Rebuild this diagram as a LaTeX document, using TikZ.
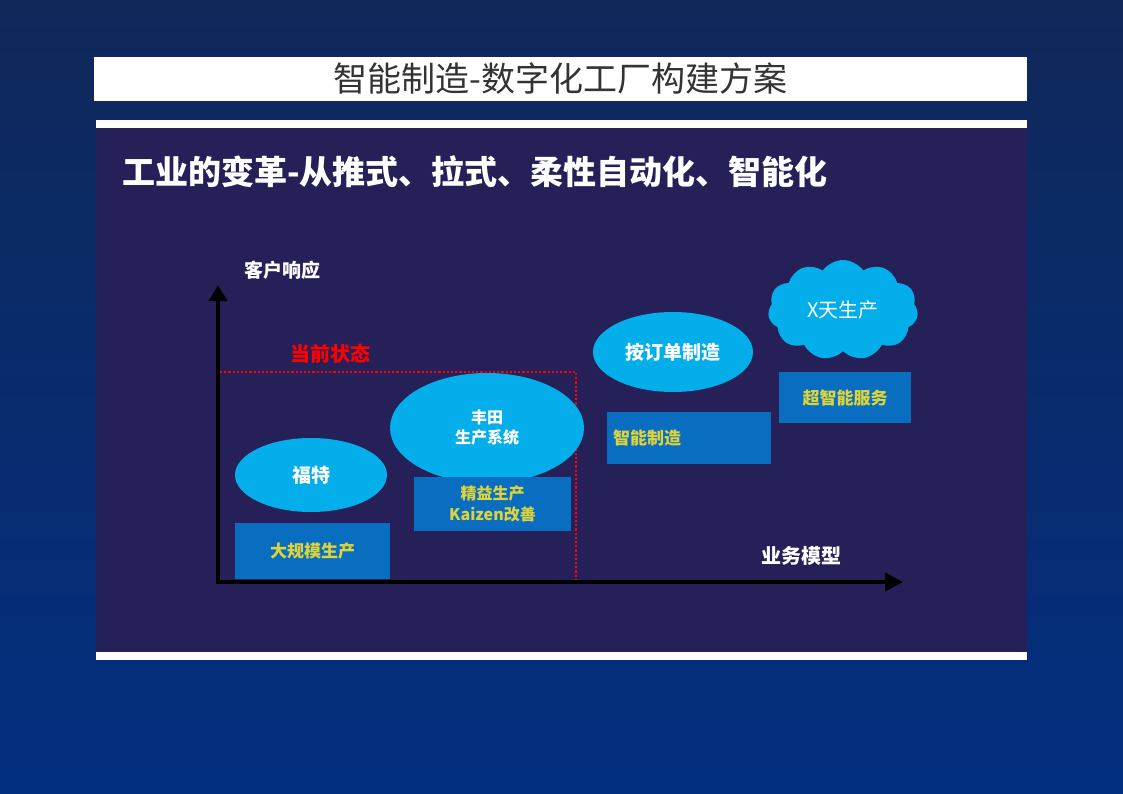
\documentclass[tikz,border=0pt]{standalone}
\usepackage{fontspec}
\newfontfamily\cjk{Noto Sans CJK SC}
\newcommand\cjkb{\cjk\bfseries}
\usetikzlibrary{shapes.symbols,shapes.geometric,arrows.meta}
\definecolor{bgtop}{HTML}{10285A}
\definecolor{bgbot}{HTML}{022F80}
\definecolor{panel}{HTML}{262059}
\definecolor{ell}{HTML}{04AEEB}
\definecolor{boxc}{HTML}{0A6EC0}
\definecolor{ytxt}{HTML}{DCD43A}
\tikzset{
 ellnode/.style={ellipse,fill=ell,inner sep=0pt,text=white,font=\cjkb\fontsize{19}{22}\selectfont,align=center},
 boxnode/.style={rectangle,fill=boxc,inner sep=0pt,text=ytxt,font=\cjkb\fontsize{17}{21}\selectfont,align=center},
 lbl/.style={text=white,font=\cjkb\fontsize{20}{24}\selectfont,inner sep=0pt},
}
\begin{document}
\begin{tikzpicture}[x=1pt,y=-1pt]
\shade[top color=bgtop,bottom color=bgbot] (0,0) rectangle (1123,794);
\useasboundingbox (0,0) rectangle (1123,794);
\node[fill=white,minimum width=933pt,minimum height=44pt,inner sep=0pt,font=\cjk\fontsize{34}{38}\selectfont,text=black!80] (title) at (560.5,79) {智能制造-数字化工厂构建方案};
\fill[white] (96,120) rectangle (1027,660);
\fill[panel] (96,128) rectangle (1027,652);
\node[anchor=west,text=white,font=\cjkb\fontsize{33}{38}\selectfont,inner sep=0pt] (head) at (122,172) {工业的变革-从推式、拉式、柔性自动化、智能化};
\coordinate (o) at (218,582);
\coordinate (ytop) at (218,285);
\coordinate (xend) at (903,582);
\node[lbl,font=\cjkb\fontsize{19}{22}\selectfont] (ylab) at (282,270) {客户响应};
\node[lbl] (xlab) at (801,556) {业务模型};
\node[lbl,text=red] (cur) at (330,354) {当前状态};
\draw[red,line width=2.2pt,dotted] (220,372) -- (576,372) -- (576,582);
\node[ellnode,minimum width=152pt,minimum height=74pt] (ford) at (311,475) {福特};
\node[boxnode,minimum width=155pt,minimum height=56pt] (mass) at (312.5,551) {大规模生产};
\node[ellnode,minimum width=194pt,minimum height=110pt,font=\cjkb\fontsize{16}{20}\selectfont] (toyota) at (487,428) {丰田\\生产系统};
\node[boxnode,minimum width=157pt,minimum height=54pt,font=\cjkb\fontsize{16}{21}\selectfont] (lean) at (492.5,504) {精益生产\\Kaizen改善};
\node[ellnode,minimum width=160pt,minimum height=80pt] (order) at (673,352) {按订单制造};
\node[boxnode,minimum width=164pt,minimum height=52pt] (smart) at (689,438) {};
\node[anchor=west,text=ytxt,font=\cjkb\fontsize{17}{21}\selectfont,inner sep=0pt] (smartt) at (613,438) {智能制造};
\node[cloud,cloud puffs=11,cloud puff arc=110,aspect=1.6,fill=ell,minimum width=150pt,minimum height=100pt,inner sep=0pt,text=white,font=\cjk\fontsize{20}{24}\selectfont] (cloud) at (843,310) {X天生产};
\node[boxnode,minimum width=132pt,minimum height=51pt] (super) at (845,397.5) {超智能服务};
\draw[line width=4pt,-{Triangle[length=16pt,width=18pt]}] (o) -- (ytop);
\draw[line width=4pt,-{Triangle[length=18pt,width=18pt]}] ([xshift=-2pt]o) -- (xend);
\end{tikzpicture}
\end{document}
